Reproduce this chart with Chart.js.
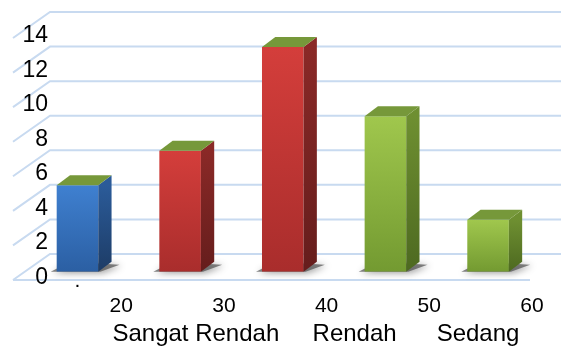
<!DOCTYPE html>
<html><head><meta charset="utf-8">
<script src="https://cdn.jsdelivr.net/npm/chart.js@4/dist/chart.umd.min.js"></script>
<style>html,body{margin:0;padding:0;background:#fff}#wrap{width:561px;height:347px}</style>
</head><body><div id="wrap"><canvas id="c" width="561" height="347"></canvas></div>
<script>
// ---- data ----
const categories = ['.', '', '', '', ''];
const values = [5, 7, 13, 9, 3];
const boundaryLabels = ['', '20', '30', '40', '50', '60'];
const yMin = 0, yMax = 14, yStep = 2;
const groupTitle = 'Sangat Rendah     Rendah      Sedang   ';
const colorGroups = ['blue', 'red', 'red', 'green', 'green'];

// ---- styles ----
const FONT = "'Liberation Sans', Arial, sans-serif";
const PAL = {
  blue:  {front: ['#3f80d0', '#2b5fa3'], side: ['#2b5b99', '#1d3c66']},
  red:   {front: ['#d43e3b', '#a92d2c'], side: ['#8a2927', '#651d1c']},
  green: {front: ['#a0c74d', '#739a31'], side: ['#6e8f31', '#4d6920']}
};
const TOPCOL = '#76983a';
const DX = 13.3, DY = 10;

function vgrad(ctx, y0, y1, c0, c1) {
  const g = ctx.createLinearGradient(0, y0, 0, y1);
  g.addColorStop(0, c0); g.addColorStop(1, c1);
  return g;
}

const deco = {
  id: 'deco',
  beforeDraw(chart) {
    const {ctx, chartArea: a, scales: {y}} = chart;
    ctx.save();
    ctx.strokeStyle = '#c8daf0';
    ctx.lineWidth = 2;
    const backX = a.left + 23.85, frontX = a.left - 13.15;
    y.ticks.forEach(t => {
      const p = y.getPixelForValue(t.value);
      ctx.beginPath();
      ctx.moveTo(frontX, p + 8.3);
      ctx.lineTo(backX, p - 17.7);
      ctx.lineTo(chart.width, p - 17.7);
      ctx.stroke();
    });
    const p0 = y.getPixelForValue(0);
    ctx.beginPath();
    ctx.moveTo(frontX, p0 + 8.3);
    ctx.lineTo(a.right - 9.4, p0 + 8.3);
    ctx.stroke();
    ctx.restore();
  },
  beforeDatasetsDraw(chart) {
    const {ctx} = chart;
    chart.getDatasetMeta(0).data.forEach(b => {
      const l = b.x - b.width / 2, r = b.x + b.width / 2, base = b.base;
      ctx.save();
      ctx.shadowColor = 'rgba(0,0,0,0.6)';
      ctx.shadowBlur = 7;
      ctx.shadowOffsetX = 2;
      ctx.shadowOffsetY = 1;
      ctx.fillStyle = 'rgba(80,80,80,0.7)';
      ctx.beginPath();
      ctx.moveTo(l - 6, base);
      ctx.lineTo(r + 2, base);
      ctx.lineTo(r + DX + 8, base - DY + 3);
      ctx.lineTo(l + DX, base - DY);
      ctx.closePath();
      ctx.fill();
      ctx.restore();
    });
  },
  afterDatasetsDraw(chart) {
    const {ctx} = chart;
    ctx.save();
    chart.getDatasetMeta(0).data.forEach((b, i) => {
      const pal = PAL[colorGroups[i]];
      const l = b.x - b.width / 2, r = b.x + b.width / 2, top = b.y, base = b.base;
      ctx.fillStyle = vgrad(ctx, top, base, pal.side[0], pal.side[1]);
      ctx.beginPath();
      ctx.moveTo(r, top);
      ctx.lineTo(r + DX, top - DY);
      ctx.lineTo(r + DX, base - DY);
      ctx.lineTo(r, base);
      ctx.closePath();
      ctx.fill();
      ctx.fillStyle = TOPCOL;
      ctx.beginPath();
      ctx.moveTo(l, top);
      ctx.lineTo(l + DX, top - DY);
      ctx.lineTo(r + DX, top - DY);
      ctx.lineTo(r, top);
      ctx.closePath();
      ctx.fill();
    });
    ctx.restore();
  }
};

new Chart(document.getElementById('c'), {
  type: 'bar',
  data: {
    labels: categories,
    datasets: [{
      data: values,
      backgroundColor(c) {
        const chart = c.chart;
        if (!chart.chartArea || c.raw === undefined) return '#888';
        const y = chart.scales.y;
        const pal = PAL[colorGroups[c.dataIndex]];
        return vgrad(chart.ctx, y.getPixelForValue(c.raw), y.getPixelForValue(0), pal.front[0], pal.front[1]);
      },
      borderWidth: 0,
      categoryPercentage: 1,
      barPercentage: 0.405
    }]
  },
  plugins: [deco],
  options: {
    responsive: false,
    animation: false,
    layout: {padding: {top: 29.7, right: 21.6, bottom: 0, left: 0}},
    plugins: {legend: {display: false}, tooltip: {enabled: false}, title: {display: false}},
    scales: {
      y: {
        min: yMin, max: yMax,
        afterFit(s) { s.width = 26.15; },
        grid: {display: false, drawTicks: false},
        border: {display: false},
        ticks: {
          stepSize: yStep, mirror: true, crossAlign: 'far',
          color: '#000', padding: -3.75, labelOffset: 6,
          font: {family: FONT, size: 23}
        }
      },
      x: {
        type: 'category',
        weight: 0,
        offset: true,
        afterFit(s) { s.height = 22; },
        grid: {display: false, drawTicks: false},
        border: {display: false},
        ticks: {color: '#000', padding: -3, autoSkip: false, maxRotation: 0, font: {family: FONT, size: 21}}
      },
      x2: {
        type: 'category',
        position: 'bottom',
        weight: 1,
        offset: false,
        labels: boundaryLabels,
        afterFit(s) { s.height = 53.3; },
        grid: {display: false, drawTicks: false},
        border: {display: false},
        ticks: {color: '#000', padding: 0, labelOffset: -7.5, autoSkip: false, maxRotation: 0, font: {family: FONT, size: 21}},
        title: {
          display: true, text: groupTitle, align: 'end', color: '#000',
          padding: {top: 0, bottom: -2},
          font: {family: FONT, size: 24}
        }
      }
    }
  }
});
</script>
</body></html>
